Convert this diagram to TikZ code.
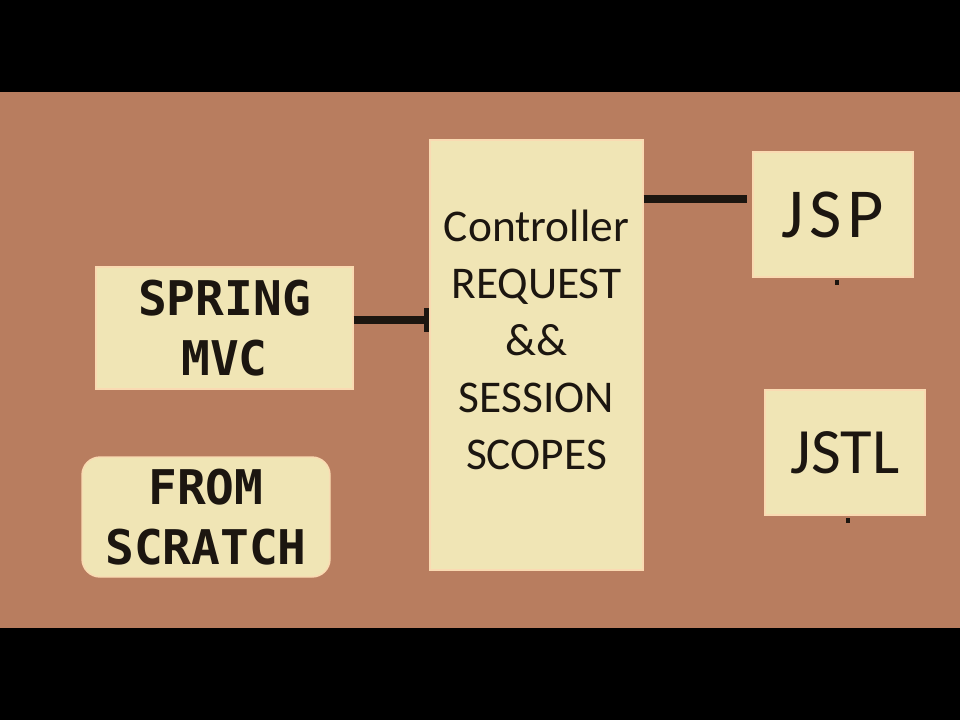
\documentclass[tikz,border=0pt]{standalone}
\usepackage{fontspec}
\usetikzlibrary{arrows.meta}
\newfontfamily\monofont{DejaVu Sans Mono}
\newfontfamily\calfont{Carlito}
\definecolor{bgbrown}{RGB}{184,125,95}
\definecolor{boxfill}{RGB}{240,229,181}
\definecolor{boxedge}{RGB}{250,218,178}
\definecolor{ink}{RGB}{28,22,16}

\begin{document}
\begin{tikzpicture}[every node/.style={text=ink}]
\tikzset{
  blk/.style={rectangle, fill=boxfill, draw=boxedge, line width=1pt, inner sep=0pt},
  mono/.style={font=\monofont\bfseries\fontsize{34}{42.7}\selectfont, align=center},
  sans/.style={font=\calfont\fontsize{32.3}{40.5}\selectfont, align=center},
  conn/.style={line width=6pt, draw=ink}
}

% --- frame ---
\fill[black] (0,0) rectangle (24,18);
\fill[bgbrown] (0,2.3) rectangle (24,15.7);

% --- left boxes ---
\node[blk,mono,minimum width=6.425cm,minimum height=3.05cm] (spring) at (5.6125,9.8) {SPRING\\MVC};
\node[blk,mono,rounded corners=0.45cm,minimum width=6.2cm,minimum height=3cm] (scratch) at (5.15,5.075) {FROM\\SCRATCH};

% --- controller ---
\node[blk,minimum width=5.325cm,minimum height=10.75cm] (ctrl) at (13.4125,9.125) {};
\node[sans] (ctrltxt) at ([yshift=0.375cm]ctrl.center) {Controller\\REQUEST\\\&\&\\SESSION\\SCOPES};

% --- right boxes ---
\node[blk,font=\calfont\addfontfeature{LetterSpace=8}\fontsize{50}{55}\selectfont,minimum width=4cm,minimum height=3.125cm] (jsp) at (20.825,12.6375) {JSP};
\node[blk,font=\calfont\fontsize{46}{50}\selectfont,minimum width=4cm,minimum height=3.125cm] (jstl) at (21.125,6.6875) {JSTL};

% --- links ---
\draw[conn,-{Bar[width=0.6cm,line width=4pt]}] ([yshift=0.2cm]spring.east) -- ([yshift=0.2cm]spring.east -| ctrl.west);
\draw[conn,shorten >=0.125cm] ([yshift=0.3875cm]jsp.west -| ctrl.east) -- ([yshift=0.3875cm]jsp.west);
\fill[ink] ([xshift=0.05cm,yshift=-0.05cm]jsp.south) rectangle ++(0.1,-0.12);
\fill[ink] ([xshift=0.03cm,yshift=-0.05cm]jstl.south) rectangle ++(0.1,-0.12);
\end{tikzpicture}
\end{document}
